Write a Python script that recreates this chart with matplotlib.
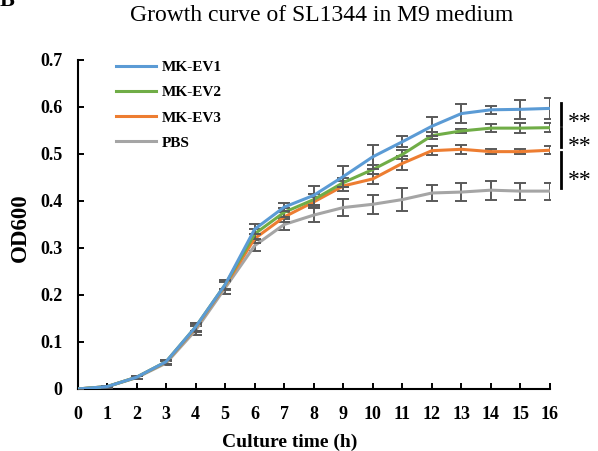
import matplotlib
matplotlib.use("Agg")
import matplotlib.pyplot as plt

plt.rcParams['font.family'] = ['Liberation Serif', 'DejaVu Serif']

hours = list(range(0, 17))

ev1 = [0.0, 0.005, 0.025, 0.058, 0.132, 0.222, 0.340, 0.387, 0.412, 0.452, 0.494, 0.526, 0.559, 0.586, 0.594, 0.595, 0.597]
ev2 = [0.0, 0.005, 0.025, 0.058, 0.132, 0.222, 0.330, 0.376, 0.403, 0.439, 0.467, 0.499, 0.539, 0.549, 0.555, 0.555, 0.556]
ev3 = [0.0, 0.005, 0.025, 0.057, 0.130, 0.220, 0.320, 0.366, 0.398, 0.432, 0.447, 0.480, 0.507, 0.510, 0.505, 0.505, 0.508]
pbs = [0.0, 0.005, 0.024, 0.055, 0.125, 0.215, 0.305, 0.350, 0.370, 0.386, 0.393, 0.403, 0.417, 0.419, 0.423, 0.421, 0.421]

ev1_err = [0.0, 0.002, 0.003, 0.004, 0.008, 0.010, 0.010, 0.008, 0.020, 0.022, 0.025, 0.012, 0.020, 0.020, 0.008, 0.020, 0.022]
ev2_err = [0.0, 0.002, 0.003, 0.004, 0.008, 0.010, 0.010, 0.010, 0.012, 0.010, 0.010, 0.010, 0.008, 0.005, 0.008, 0.010, 0.010]
ev3_err = [0.0, 0.002, 0.003, 0.004, 0.008, 0.010, 0.010, 0.010, 0.010, 0.010, 0.010, 0.015, 0.010, 0.010, 0.005, 0.006, 0.008]
pbs_err = [0.0, 0.002, 0.003, 0.005, 0.010, 0.012, 0.012, 0.012, 0.015, 0.018, 0.020, 0.025, 0.018, 0.020, 0.020, 0.018, 0.018]

labels = ['MK-EV1', 'MK-EV2', 'MK-EV3', 'PBS']
colors = ['#5B9BD5', '#70AD47', '#ED7D31', '#A5A5A5']
series = [ev1, ev2, ev3, pbs]
errors = [ev1_err, ev2_err, ev3_err, pbs_err]

# significance brackets between neighbouring curves at the last time point
sig_spans = [(0.562, 0.608), (0.515, 0.555), (0.428, 0.504)]
sig_star_y = [0.568, 0.515, 0.444]
sig_text = ['**', '**', '**']

fig = plt.figure(figsize=(5.98, 4.51), dpi=100)
ax = fig.add_axes([0.1296, 0.1375, 0.7901, 0.7295])

# PBS drawn first so coloured curves sit on top
for idx in [3, 2, 1, 0]:
    ax.errorbar(hours, series[idx], yerr=errors[idx], color=colors[idx], lw=2.2,
                ecolor='#595959', elinewidth=1.4, capsize=4, capthick=1.4,
                label=labels[idx], zorder=3 + (3 - idx))

ax.set_xlim(0, 16)
ax.set_ylim(0, 0.7)
ax.set_xticks(hours)
ax.set_yticks([0, 0.1, 0.2, 0.3, 0.4, 0.5, 0.6, 0.7])
ax.set_yticklabels(['0', '0.1', '0.2', '0.3', '0.4', '0.5', '0.6', '0.7'])
ax.spines['top'].set_visible(False)
ax.spines['right'].set_visible(False)
for s in ['left', 'bottom']:
    ax.spines[s].set_linewidth(1.5)
ax.tick_params(direction='in', length=4, width=1.4, labelsize=13)
ax.tick_params(axis='x', pad=12)
ax.tick_params(axis='y', pad=11)
for t in ax.get_xticklabels() + ax.get_yticklabels():
    t.set_fontweight('bold')

ax.set_xlabel('Culture time (h)', fontsize=14, fontweight='bold')
ax.xaxis.set_label_coords(0.45, -0.135)
ax.set_ylabel('OD600', fontsize=16.5, fontweight='bold')
ax.yaxis.set_label_coords(-0.098, 0.49)
fig.suptitle('Growth curve of SL1344 in M9 medium', fontsize=17, x=0.537, y=0.99)

handles, lbls = ax.get_legend_handles_labels()
order = [3, 2, 1, 0]
leg = ax.legend([handles[i][0] for i in order], [lbls[i] for i in order],
                loc='upper left', bbox_to_anchor=(0.052, 1.04), frameon=False,
                prop={'weight': 'bold', 'size': 11}, handlelength=2.6,
                labelspacing=0.75, handletextpad=0.4)

for (lo, hi), sy, txt in zip(sig_spans, sig_star_y, sig_text):
    ax.plot([16.37, 16.37], [lo, hi], color='black', lw=2, clip_on=False)
    ax.text(16.62, sy, txt, fontsize=17, va='center', ha='left', clip_on=False)

fig.text(0.0, 0.987, 'B', fontsize=16, fontweight='bold', ha='left', va='baseline')

fig.savefig('out.png', dpi=100)
